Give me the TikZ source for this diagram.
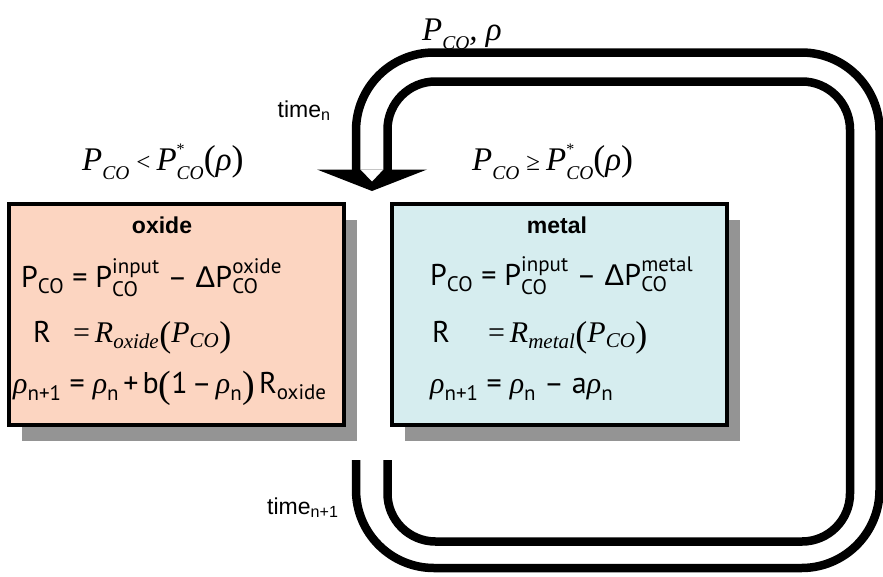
\documentclass[tikz,border=0pt]{standalone}
\usepackage{amsmath}
\usepackage{fontspec}
\setmainfont{Liberation Serif}
\setsansfont{Liberation Sans}
\newfontfamily\eqfont{PT Sans}
\usetikzlibrary{shadows}
\definecolor{oxidefill}{RGB}{252,213,193}
\definecolor{metalfill}{RGB}{214,237,239}
\definecolor{shadowgray}{RGB}{148,148,148}

\newcommand{\tx}[1]{\text{#1}}
\newcommand{\ti}[1]{\text{\rmfamily\itshape #1}}
\newcommand{\bp}[3]{\text{\rmfamily\upshape\fontsize{#1}{#1}\selectfont\raisebox{#2}{#3}}}
% P_CO and P*_CO for the labels above the boxes
\newcommand{\pco}{P\raisebox{-9pt}{\fontsize{19.5}{20}\selectfont CO}}
\newcommand{\pstar}{P\rlap{\raisebox{16pt}{\upshape\fontsize{16}{16}\selectfont *}}\raisebox{-9pt}{\fontsize{19.5}{20}\selectfont CO}}
\newcommand{\rel}[1]{{\upshape\fontsize{25}{25}\selectfont #1}}
\newcommand{\lpar}[1]{{\upshape\fontsize{36}{36}\selectfont #1}}

\begin{document}
\begin{tikzpicture}[x=1pt,y=-1pt,
  box/.style={draw,line width=4pt,minimum width=335pt,minimum height=221pt,inner sep=0pt,
    drop shadow={shadow xshift=13pt,shadow yshift=-16pt,fill=shadowgray,opacity=1}},
  eqn/.style={font=\eqfont\fontsize{30}{36}\selectfont,inner sep=0pt,anchor=base west},
  title/.style={font=\sffamily\bfseries\fontsize{23}{28}\selectfont,inner sep=0pt,anchor=base},
  cond/.style={font=\rmfamily\itshape\fontsize{33}{40}\selectfont,inner sep=0pt,anchor=base west},
  tlabel/.style={font=\sffamily\fontsize{23}{28}\selectfont,inner sep=0pt,anchor=base west},
  loopline/.style={line width=8.5pt}]

\useasboundingbox (0,0) rectangle (883,576);

 \coordinate (outA) at (356,170); % arrow end
 \coordinate (outB) at (356,460);
 \coordinate (inA) at (387.5,170);
 \coordinate (inB) at (387.5,460);
 \coordinate (tip) at (372,191);

 %loop
 \draw[loopline,rounded corners=78pt] (outB) -- (356,568) -- (879.5,568) -- (879.5,52.5) -- (356,52.5) -- (outA);
 \draw[loopline,rounded corners=48pt] (inB) -- (387.5,541.5) -- (850,541.5) -- (850,81.5) -- (387.5,81.5) -- (inA);
 \fill (317,169.5) -- (tip) -- (427,169.5) -- cycle;
 \fill[white] (360.5,169.5) -- (372,181.5) -- (383.3,169.5) -- cycle;

 %boxes
 \node[box,fill=oxidefill] (oxide) at (176.25,314.5) {};
 \node[box,fill=metalfill] (metal) at (559.25,314.75) {};

 \node[title] (oxtitle) at (162,233) {oxide};
 \node[title] (metitle) at (557,233) {metal};

 \node[eqn] (ox1) at (21,287) {$\tx{P}_{\tx{CO}}\ \tx{=}\ \tx{P}_{\tx{CO}}^{\tx{input}}\ \tx{–}\ \tx{\sffamily Δ}\tx{P}_{\tx{CO}}^{\tx{oxide}}$};
 \node[eqn] (ox2) at (33,342) {$\tx{R}\hspace{22pt}\tx{\rmfamily =}\hspace{5pt}\ti{R}_{\ti{oxide}}\bp{36}{-4pt}{(}\ti{P}_{\ti{CO}}\bp{36}{-4pt}{)}$};
 \node[eqn] (ox3) at (13,393) {$\ti{ρ}_{\tx{n+1}}\ \tx{=}\ \ti{ρ}_{\tx{n}}\,\tx{+}\,\tx{b}\bp{38}{-4pt}{(}\tx{1}\,\tx{–}\,\ti{ρ}_{\tx{n}}\bp{38}{-4pt}{)}\,\tx{R}_{\tx{oxide}}$};

 \node[eqn] (me1) at (430,285) {$\tx{P}_{\tx{CO}}\ \tx{=}\ \tx{P}_{\tx{CO}}^{\tx{input}}\ \tx{–}\ \tx{\sffamily Δ}\tx{P}_{\tx{CO}}^{\tx{metal}}$};
 \node[eqn] (me2) at (432,342) {$\tx{R}\hspace{38pt}\tx{\rmfamily =}\hspace{5pt}\ti{R}_{\ti{metal}}\bp{36}{-4pt}{(}\ti{P}_{\ti{CO}}\bp{36}{-4pt}{)}$};
 \node[eqn] (me3) at (430,393) {$\ti{ρ}_{\tx{n+1}}\ \tx{=}\ \ti{ρ}_{\tx{n}}\ \tx{–}\ \tx{a}\ti{ρ}_{\tx{n}}$};

 %labels
 \node[cond] (state) at (422,40) {\pco, ρ};
 \node[cond] (condox) at (82,170) {\pco\hspace{7pt}\rel{<}\hspace{6pt}\pstar\lpar{(}ρ\lpar{)}};
 \node[cond] (condme) at (472,170) {\pco\hspace{7pt}\rel{≥}\hspace{6pt}\pstar\lpar{(}ρ\lpar{)}};
 \node[tlabel] (tn) at (277.5,117) {$\tx{time}_{\tx{n}}$};
 \node[tlabel] (tnext) at (267,514) {$\tx{time}_{\tx{n+1}}$};
\end{tikzpicture}
\end{document}
